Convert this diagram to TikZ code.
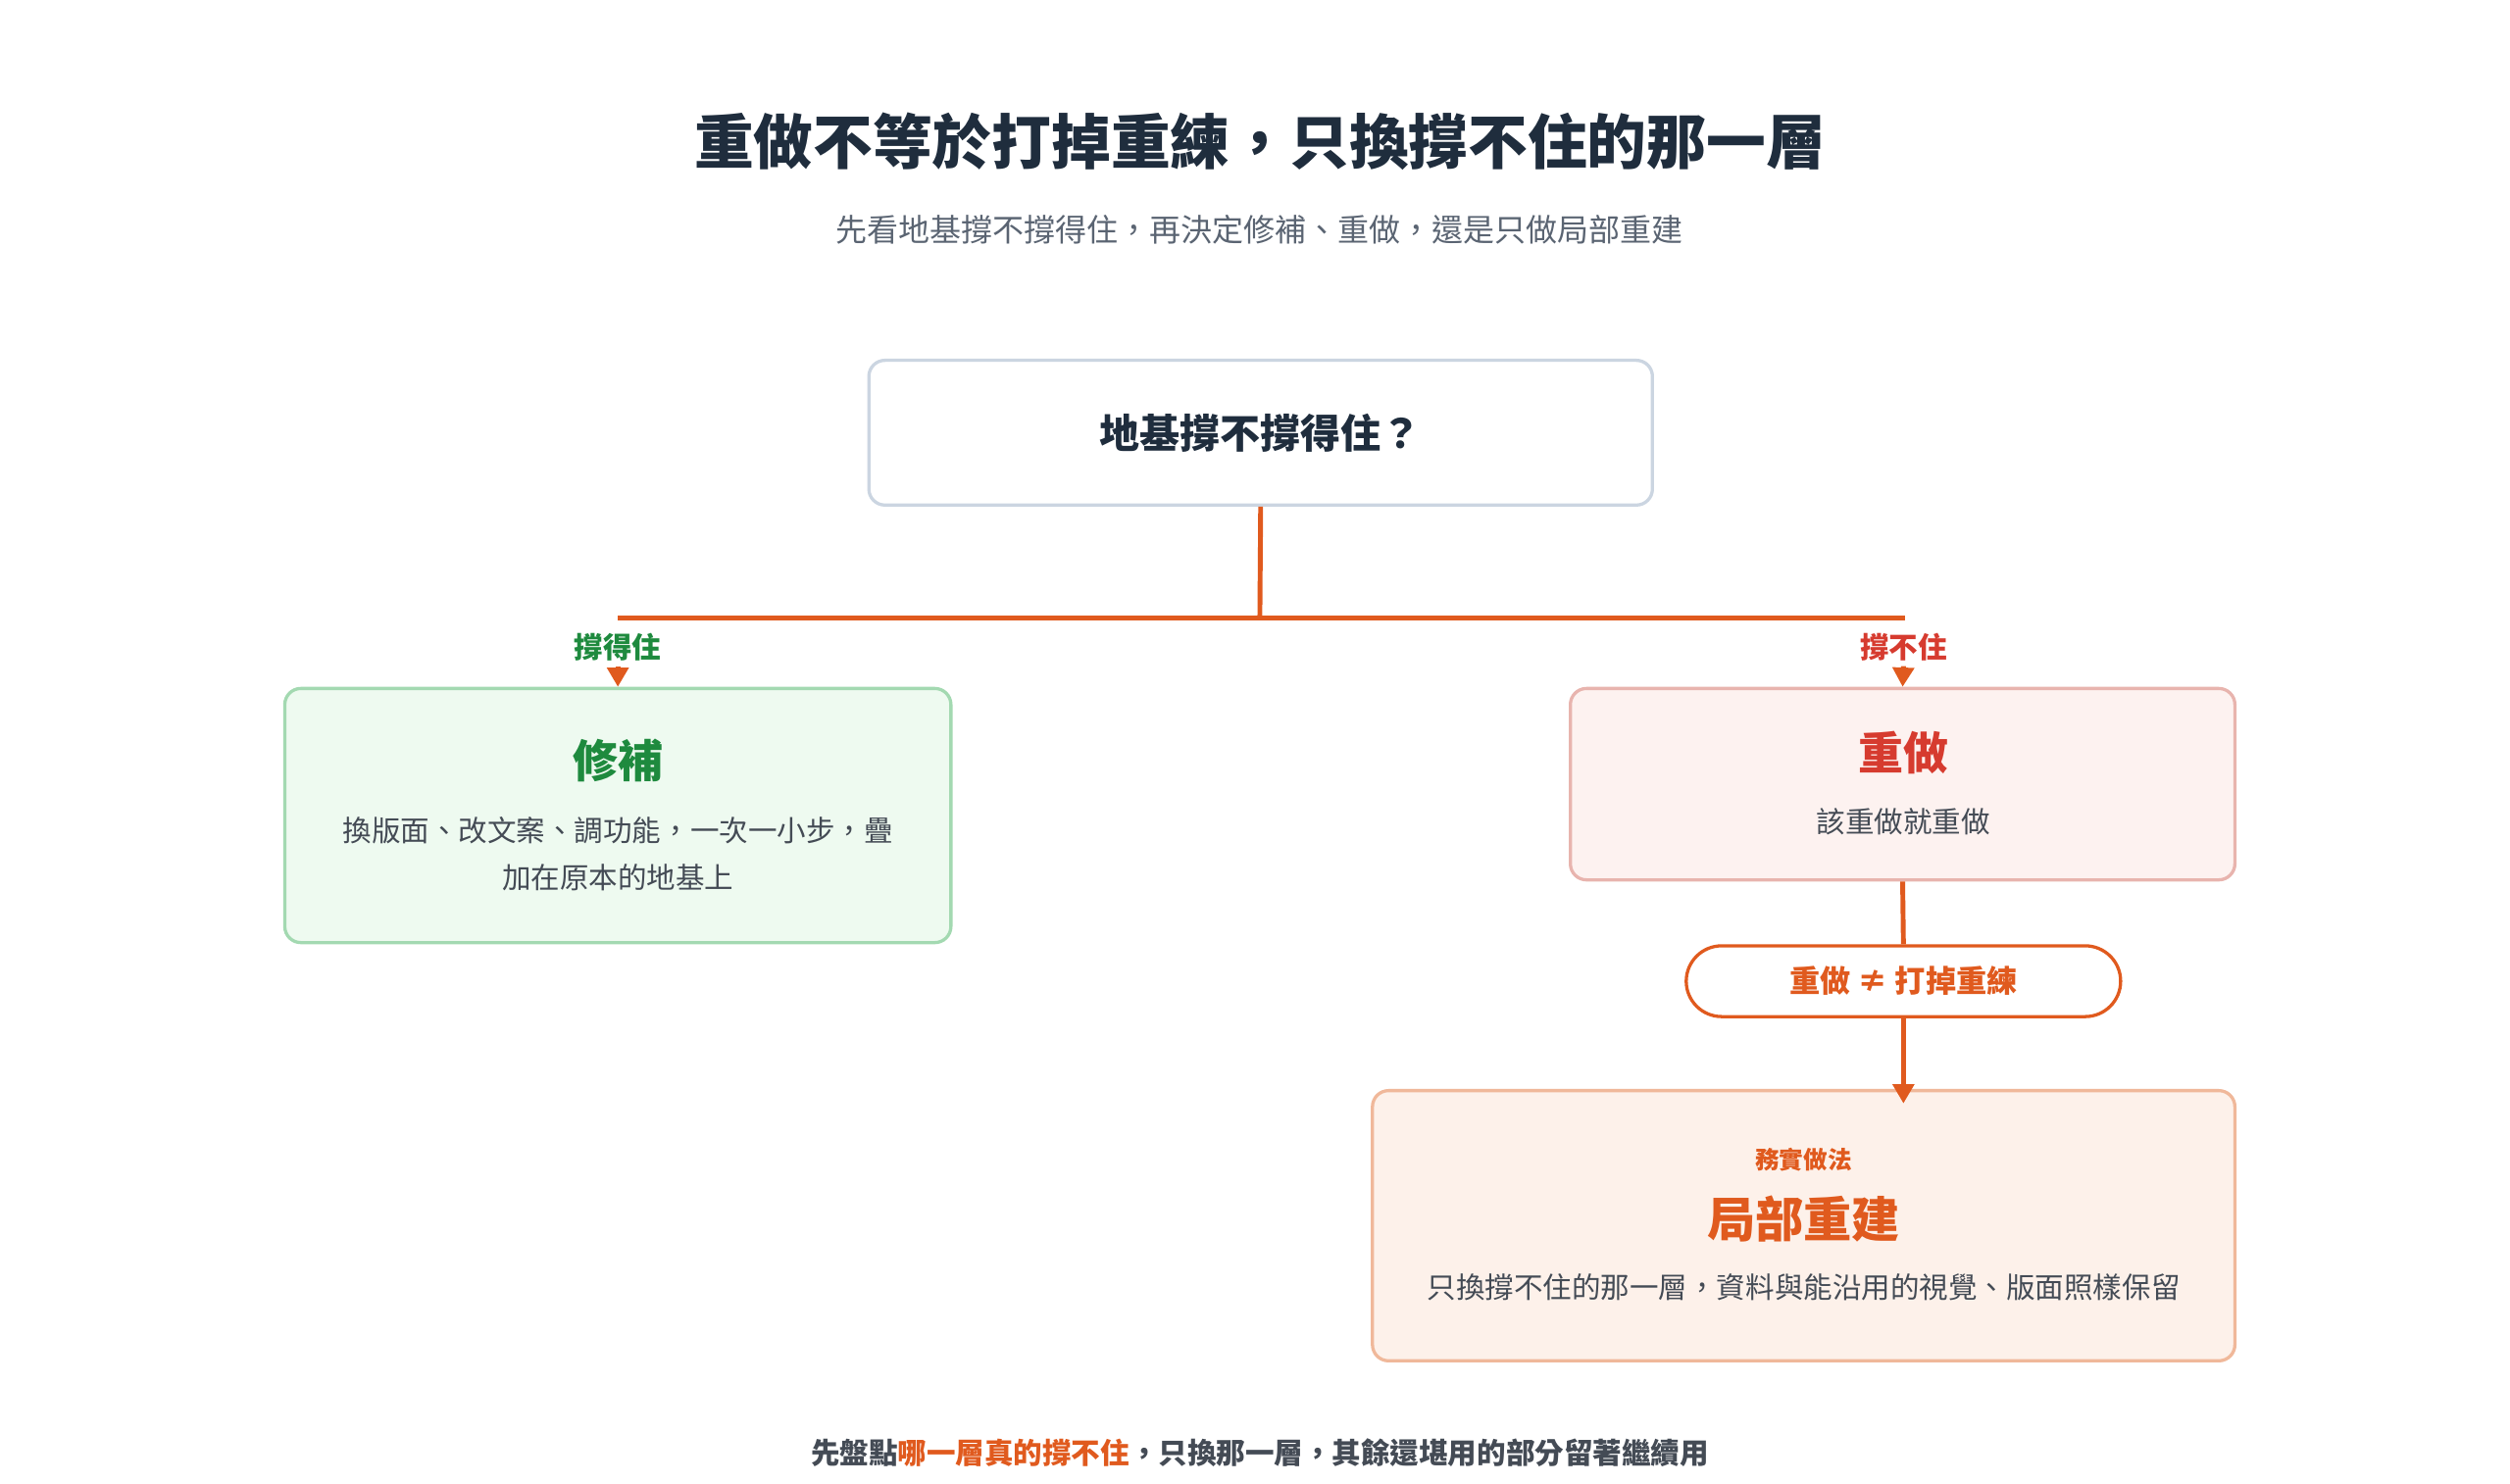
\documentclass[tikz,border=0pt]{standalone}
\usepackage{fontspec}
\setmainfont{Noto Sans CJK TC}
\usetikzlibrary{arrows.meta}
\definecolor{ink}{HTML}{1F2D3D}
\definecolor{sub}{HTML}{5A6472}
\definecolor{org}{HTML}{E05A1E}
\definecolor{grn}{HTML}{1E8A3E}
\definecolor{red}{HTML}{D63B2F}
\definecolor{txt}{HTML}{444B55}
\definecolor{tb}{HTML}{CBD5E1}
\definecolor{lf}{HTML}{EEFAF0}\definecolor{ld}{HTML}{A3D9B1}
\definecolor{rf}{HTML}{FDF2F0}\definecolor{rd}{HTML}{E8B4AE}
\definecolor{bf}{HTML}{FDF1EA}\definecolor{bd}{HTML}{F0B89A}
\begin{document}
\begin{tikzpicture}[x=1pt,y=-1pt,
  box/.style={draw, line width=2pt, rounded corners=10pt},
  conn/.style={org, line width=3pt},
  arr/.style={conn, -{Triangle[length=12pt,width=13pt]}},
  lbl/.style={font=\fontsize{18}{22}\selectfont\bfseries}]
\useasboundingbox (0,0) rectangle (1560,922);
\node[ink,font=\fontsize{37}{42}\selectfont\bfseries] (title) at (783,88) {重做不等於打掉重練，只換撐不住的那一層};
\node[sub,font=\fontsize{19.5}{23}\selectfont] (subt) at (783,143) {先看地基撐不撐得住，再決定修補、重做，還是只做局部重建};
% top box
\node[box, draw=tb, fill=white, minimum width=487pt, minimum height=90pt] (q) at (783.5,269) {};
\node[ink,font=\fontsize{25}{28}\selectfont\bfseries] at (q) {地基撐不撐得住？};
\coordinate (j) at (783,384);
\coordinate (jl) at (384,384);
\coordinate (jr) at (1184,384);
\draw[conn] (q.south) -- (j);
\draw[conn] (jl) -- (jr);
\node[lbl, grn] (lg) at (384,402) {撐得住};
\node[lbl, red] (lr) at (1183,402) {撐不住};
% left box
\node[box, draw=ld, fill=lf, minimum width=414pt, minimum height=158pt] (fix) at (384,507) {};
\node[grn,font=\fontsize{28}{32}\selectfont\bfseries] at (384,473) {修補};
\node[txt,font=\fontsize{18}{29}\selectfont, align=center] at (384,531) {換版面、改文案、調功能，一次一小步，疊\\加在原本的地基上};
% right box
\node[box, draw=rd, fill=rf, minimum width=413pt, minimum height=119pt] (redo) at (1182.5,487.5) {};
\node[red,font=\fontsize{28}{32}\selectfont\bfseries] at (1183,468) {重做};
\node[txt,font=\fontsize{18}{22}\selectfont] at (1183,511) {該重做就重做};
\draw[arr] (lg.south) -- (fix.north);
\draw[arr] (lr.south) -- (redo.north);
% pill
\node[draw=org, line width=2pt, fill=white, rounded corners=22pt, minimum width=270pt, minimum height=44pt, text=org, font=\fontsize{19}{22}\selectfont\bfseries] (pill) at (1183,610) {重做 ≠ 打掉重練};
\draw[conn] (redo.south) -- (pill.north);
% bottom box
\node[box, draw=bd, fill=bf, minimum width=536pt, minimum height=168pt] (part) at (1121,762) {};
\coordinate (pe) at (1183,686);
\draw[arr] (pill.south) -- (pe);
\node[org,font=\fontsize{15}{18}\selectfont\bfseries] at (1121,721) {務實做法};
\node[org,font=\fontsize{30}{34}\selectfont\bfseries] at (1121,758) {局部重建};
\node[txt,font=\fontsize{18}{22}\selectfont] at (1121,800) {只換撐不住的那一層，資料與能沿用的視覺、版面照樣保留};
% footer
\node[txt,font=\fontsize{18}{22}\selectfont\bfseries] (foot) at (783,903) {先盤點\textcolor{org}{哪一層真的撐不住}，只換那一層，其餘還堪用的部分留著繼續用};
\end{tikzpicture}
\end{document}
